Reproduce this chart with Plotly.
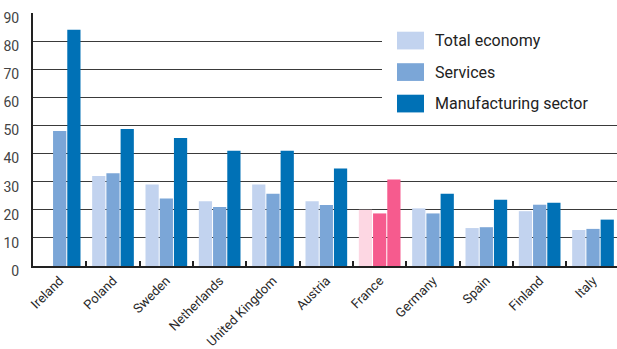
import plotly.graph_objects as go

countries = ["Ireland", "Poland", "Sweden", "Netherlands", "United Kingdom", "Austria",
             "France", "Germany", "Spain", "Finland", "Italy"]
total_economy = [None, 32, 29, 23, 29, 23, 20, 20.5, 13.5, 19.5, 12.8]
services = [48, 33, 24, 21, 25.7, 21.7, 18.7, 18.7, 13.8, 21.8, 13.2]
manufacturing = [84, 48.7, 45.5, 41, 41, 34.7, 30.8, 25.7, 23.6, 22.5, 16.5]

series_names = ["Total economy", "Services", "Manufacturing sector"]
blue_colors = ["#c2d3ef", "#7ba6d7", "#0071b6"]
pink_colors = ["#fdd7e3", "#f65b8e", "#f65b8e"]
highlight = "France"

W, H = 617, 349
L, R, T, B = 33, 0, 13, 79

fig = go.Figure()
for name, vals, base, hl in zip(series_names, [total_economy, services, manufacturing],
                                blue_colors, pink_colors):
    colors = [hl if c == highlight else base for c in countries]
    fig.add_trace(go.Bar(x=countries, y=vals, name=name, marker=dict(color=colors, line_width=0),
                         showlegend=False))

fig.update_layout(
    width=W, height=H,
    margin=dict(l=L, r=R, t=T, b=B, pad=0),
    paper_bgcolor="white", plot_bgcolor="white",
    barmode="group", bargap=0.2, bargroupgap=0.07,
    font=dict(family="Roboto", color="#333"),
)
fig.update_xaxes(
    range=[-0.5, 10.45], showgrid=False, tickangle=-45,
    ticks="inside", tickson="boundaries", ticklen=5, tickwidth=2, tickcolor="#222",
    showline=True, linewidth=2, linecolor="#222",
    tickfont=dict(size=13, color="#2a2a2a"),
)
fig.update_yaxes(
    range=[0, 90], dtick=10, showgrid=True, gridcolor="#3a3a3a", gridwidth=1.4,
    showline=True, linewidth=2, linecolor="#222", zeroline=False,
    ticks="", ticklabelstandoff=9, ticklabelshift=5,
    tickfont=dict(size=14, color="#444"),
)

# legend panel drawn over the gridlines
pw, ph = W - L - R, H - T - B
def px_x(x):
    return (x - L) / pw
def px_y(y):
    return (H - B - y) / ph

fig.add_shape(type="rect", xref="paper", yref="paper", layer="above",
              x0=px_x(382), x1=px_x(620), y0=px_y(123), y1=px_y(16),
              fillcolor="white", line_width=0)
for i, (name, col) in enumerate(zip(series_names, blue_colors)):
    cy = 41 + 32 * i
    fig.add_shape(type="rect", xref="paper", yref="paper", layer="above",
                  x0=px_x(397), x1=px_x(424), y0=px_y(cy + 9), y1=px_y(cy - 9),
                  fillcolor=col, line_width=0)
    fig.add_annotation(xref="paper", yref="paper", x=px_x(433), y=px_y(cy),
                       xanchor="left", yanchor="middle", showarrow=False,
                       text=name, font=dict(size=16, color="#222"))

fig.write_html("out.html")
